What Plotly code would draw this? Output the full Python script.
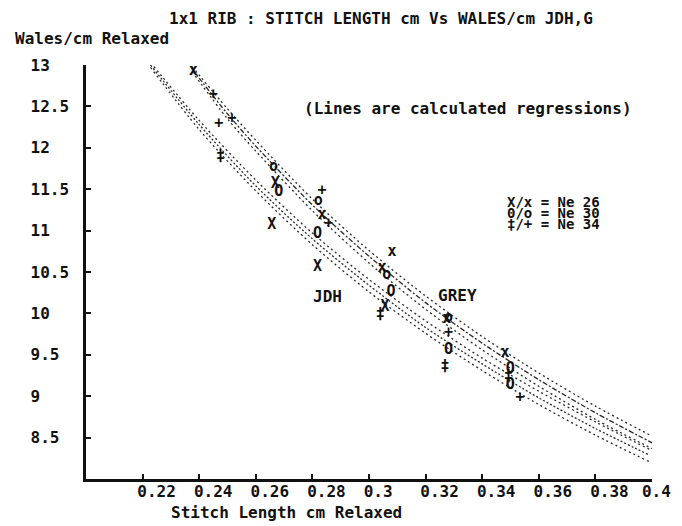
import plotly.graph_objects as go

# ---------------- data ----------------
# regression curves, lower band = JDH, upper band = GREY
jdh_x = [0.2228, 0.24, 0.26, 0.28, 0.30, 0.32, 0.34, 0.36, 0.38, 0.399]
jdh_26 = [13.03, 12.33, 11.61, 10.97, 10.41, 9.91, 9.46, 9.06, 8.69, 8.36]
jdh_30 = [13.00, 12.28, 11.54, 10.90, 10.34, 9.83, 9.39, 8.98, 8.61, 8.29]
jdh_34 = [12.97, 12.22, 11.48, 10.83, 10.26, 9.76, 9.31, 8.90, 8.53, 8.21]

grey_x = [0.2375, 0.25, 0.26, 0.28, 0.30, 0.32, 0.34, 0.36, 0.38, 0.401]
grey_26 = [12.98, 12.47, 12.09, 11.38, 10.76, 10.21, 9.72, 9.28, 8.88, 8.50]
grey_30 = [12.95, 12.41, 12.02, 11.31, 10.69, 10.13, 9.64, 9.20, 8.80, 8.42]
grey_34 = [12.92, 12.35, 11.96, 11.24, 10.61, 10.05, 9.56, 9.12, 8.72, 8.35]

# measured points: JDH (upper-case symbols)
X_jdh_x = [0.2656, 0.2669, 0.2818, 0.3057]
X_jdh_y = [11.07, 11.56, 10.56, 10.08]
O_jdh_x = [0.2681, 0.2818, 0.3078, 0.3281, 0.3499, 0.3499]
O_jdh_y = [11.46, 10.96, 10.26, 9.55, 9.33, 9.13]
D_jdh_x = [0.2475, 0.3040, 0.3269, 0.3493]
D_jdh_y = [11.89, 9.976, 9.353, 9.233]

# measured points: GREY (lower-case symbols)
x_grey_x = [0.2379, 0.2834, 0.3081, 0.3046, 0.3275, 0.3481]
x_grey_y = [12.93, 11.18, 10.74, 10.54, 9.935, 9.514]
o_grey_x = [0.2663, 0.2821, 0.3063, 0.3281]
o_grey_y = [11.76, 11.36, 10.46, 9.936]
p_grey_x = [0.2450, 0.2469, 0.2516, 0.2834, 0.2857, 0.3281, 0.3534]
p_grey_y = [12.63, 12.29, 12.35, 11.48, 11.08, 9.755, 8.972]

x_ticks = [0.22, 0.24, 0.26, 0.28, 0.30, 0.32, 0.34, 0.36, 0.38, 0.40]
x_tick_labels = ["0.22", "0.24", "0.26", "0.28", "0.3", "0.32", "0.34", "0.36", "0.38", "0.4"]
y_ticks = [8.5, 9, 9.5, 10, 10.5, 11, 11.5, 12, 12.5, 13]
y_tick_labels = ["8.5", "9", "9.5", "10", "10.5", "11", "11.5", "12", "12.5", "13"]

# ---------------- figure ----------------
FONT = "DejaVu Sans Mono"
OFF = 8                      # page body margin offset of the plot div
W, H = 682 - OFF, 526 - OFF
RL, RR, RT, RB = 85.5, 652, 64.5, 479     # plot area in page pixels
ML, MR, MT, MB = RL - OFF, W - (RR - OFF), RT - OFF, H - (RB - OFF)
PW, PH = W - ML - MR, H - MT - MB
NB = "\u00a0"


def px(xp):
    return (xp - OFF - ML) / PW


def py(yp):
    return (H - MB - (yp - OFF)) / PH


fig = go.Figure()

line_color = "#2a2a2a"
for xs, ys, dash in [
    (jdh_x, jdh_26, "2px,3px"), (jdh_x, jdh_30, "2px,2px"), (jdh_x, jdh_34, "2px,3px"),
    (grey_x, grey_26, "2px,3px"), (grey_x, grey_30, "5px,2px,2px,2px"), (grey_x, grey_34, "2px,3px"),
]:
    fig.add_trace(go.Scatter(
        x=xs, y=ys, mode="lines",
        line=dict(color=line_color, width=1.3, dash=dash, shape="spline", smoothing=0.8),
        showlegend=False, hoverinfo="skip"))

for xs, ys, sym, size in [
    (X_jdh_x, X_jdh_y, "X", 15), (O_jdh_x, O_jdh_y, "O", 15), (D_jdh_x, D_jdh_y, "‡", 15),
    (x_grey_x, x_grey_y, "x", 15), (o_grey_x, o_grey_y, "o", 15), (p_grey_x, p_grey_y, "+", 15),
]:
    fig.add_trace(go.Scatter(
        x=xs, y=ys, mode="text", text=[sym] * len(xs),
        textfont=dict(family=FONT, size=size, color="#111", weight="bold"),
        textposition="middle center", showlegend=False, cliponaxis=False))

ann_font = dict(family=FONT, size=16, color="#111", weight="bold")
annotations = [
    dict(text="1x1 RIB : STITCH LENGTH cm Vs WALES/cm JDH,G", x=px(167), y=py(18),
         xanchor="left", yanchor="middle"),
    dict(text="Wales/cm Relaxed", x=px(12), y=py(38), xanchor="left", yanchor="middle"),
    dict(text="Stitch Length cm Relaxed", x=px(169), y=py(513), xanchor="left", yanchor="middle"),
    dict(text="(Lines are calculated regressions)", x=px(302), y=py(108),
         xanchor="left", yanchor="middle"),
    dict(text="JDH", x=px(327.5), y=py(296), xanchor="center", yanchor="middle"),
    dict(text="GREY", x=px(457.5), y=py(295), xanchor="center", yanchor="middle"),
]
for i, t in enumerate(["X/x = Ne 26", "0/o = Ne 30", "‡/+ = Ne 34"]):
    annotations.append(dict(text=t, x=px(505), y=py(202 + 11 * i), xanchor="left",
                            yanchor="middle", font=dict(family=FONT, size=14, color="#111", weight="bold")))
for a in annotations:
    a.setdefault("font", ann_font)
    a.update(xref="paper", yref="paper", showarrow=False)

fig.update_layout(
    width=W, height=H,
    margin=dict(l=ML, r=MR, t=MT, b=MB, autoexpand=False),
    paper_bgcolor="white", plot_bgcolor="white",
    annotations=annotations,
    xaxis=dict(range=[0.2, 0.4], tickvals=x_ticks, automargin=False,
               ticktext=[t + NB * (4 - len(t)) if t != "0.4" else t + NB * 2 for t in x_tick_labels],
               ticks="inside", ticklen=5, tickwidth=2, tickcolor="#111",
               showline=True, linecolor="#111", linewidth=2.5, showgrid=False, zeroline=False,
               tickfont=dict(family=FONT, size=16, color="#111", weight="bold"),
               ticklabelshift=14, ticklabelstandoff=-4, ticklabeloverflow="allow"),
    yaxis=dict(range=[8, 13], tickvals=y_ticks, automargin=False,
               ticktext=[t + NB * (4 - len(t)) for t in y_tick_labels],
               ticks="inside", ticklen=5, tickwidth=2, tickcolor="#111",
               showline=True, linecolor="#111", linewidth=2.5, showgrid=False, zeroline=False,
               tickfont=dict(family=FONT, size=16, color="#111", weight="bold"),
               ticklabelstandoff=11),
)

fig.write_html("out.html")
